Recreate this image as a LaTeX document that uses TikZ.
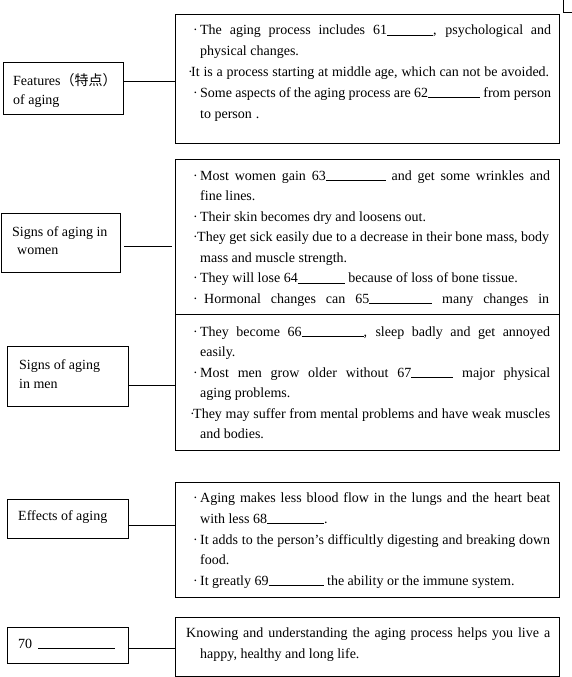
\documentclass[tikz,border=0pt]{standalone}
\usepackage{fontspec}
\setmainfont{Liberation Serif}
\newfontfamily\cjk{Noto Sans CJK SC}
\newcommand\blank[1]{\rule[-1pt]{#1}{0.7pt}}
\newcommand\jtext[2]{\makebox[#1][s]{#2}}
\newcommand\bul[1]{\makebox[#1][l]{·}}
\begin{document}
\begin{tikzpicture}[x=1pt,y=-1pt,
  box/.style={draw, line width=0.9pt, inner sep=0pt, anchor=north west},
  txt/.style={anchor=base west, inner sep=0pt, font=\fontsize{14}{17}\selectfont},
  link/.style={line width=0.9pt}]
\useasboundingbox (0,0) rectangle (572,677);
% right boxes
\node[box, minimum width=384pt, minimum height=129pt] (r1) at (175,14) {};
\node[box, minimum width=384pt, minimum height=155pt] (r2) at (175,159) {};
\node[box, minimum width=384pt, minimum height=136pt] (r3) at (175,314) {};
\node[box, minimum width=384pt, minimum height=115pt] (r4) at (175,482) {};
\node[box, minimum width=384pt, minimum height=59pt] (r5) at (175,617) {};
% left boxes
\node[box, minimum width=120pt, minimum height=52pt] (l1) at (3,62) {};
\node[box, minimum width=119pt, minimum height=59pt] (l2) at (0.5,213) {};
\node[box, minimum width=121pt, minimum height=60pt] (l3) at (7,346) {};
\node[box, minimum width=121pt, minimum height=39pt] (l4) at (7,499) {};
\node[box, minimum width=121pt, minimum height=36pt] (l5) at (7,627) {};
% connector levels
\coordinate (c1) at (0,81);
\coordinate (c2) at (0,246);
\coordinate (c3) at (0,385);
\coordinate (c4) at (0,525);
\coordinate (c5) at (0,648);
\draw[link] (l1.east |- c1) -- (r1.west |- c1);
\draw[link, shorten <=4pt, shorten >=3pt] (l2.east |- c2) -- (r2.west |- c2);
\draw[link] (l3.east |- c3) -- (r3.west |- c3);
\draw[link] (l4.east |- c4) -- (r4.west |- c4);
\draw[link] (l5.east |- c5) -- (r5.west |- c5);
% corner mark
\draw[line width=0.9pt] (563,0) -- (563,12) -- (572,12);
% left texts
\node[txt] (l1a) at (13,85) {Features{\cjk （特点）}};
\node[txt] (l1b) at (13,104) {of aging};
\node[txt] (l2a) at (12,236) {Signs of aging in};
\node[txt] (l2b) at (17,254) {women};
\node[txt] (l3a) at (19,369) {Signs of aging};
\node[txt] (l3b) at (19,388) {in men};
\node[txt] (l4a) at (18,520) {Effects of aging};
\node[txt] (l5a) at (18,648) {70\hspace{6pt}\blank{77pt}};
% box 1
\node[txt] (a1) at (193,35) {\bul{7pt}\jtext{351pt}{The aging process includes 61\blank{46pt}, psychological and}};
\node[txt] (a2) at (200,56) {physical changes.};
\node[txt] (a3) at (188,76.5) {\bul{3pt}\jtext{358pt}{It is a process starting at middle age, which can not be avoided.}};
\node[txt] (a4) at (193,97) {\bul{7pt}\jtext{351pt}{Some aspects of the aging process are 62\blank{52pt} from person}};
\node[txt] (a5) at (200,118) {to person\hspace{4pt}.};
% box 2
\node[txt] (b1) at (193,180) {\bul{7pt}\jtext{350pt}{Most women gain 63\blank{60pt} and get some wrinkles and}};
\node[txt] (b2) at (200,200.5) {fine lines.};
\node[txt] (b3) at (193,221) {\bul{7pt}Their skin becomes dry and loosens out.};
\node[txt] (b4) at (193,241.5) {\bul{4pt}\jtext{352pt}{They get sick easily due to a decrease in their bone mass, body}};
\node[txt] (b5) at (200,262) {mass and muscle strength.};
\node[txt] (b6) at (193,282.5) {\bul{7pt}They will lose 64\blank{47pt} because of loss of bone tissue.};
\node[txt] (b7) at (193,303) {\bul{11pt}\jtext{345pt}{Hormonal changes can 65\blank{63pt} many changes in}};
% box 3
\node[txt] (m1) at (193,336) {\bul{7pt}\jtext{350pt}{They become 66\blank{62pt}, sleep badly and get annoyed}};
\node[txt] (m2) at (200,356.5) {easily.};
\node[txt] (m3) at (193,377) {\bul{7pt}\jtext{350pt}{Most men grow older without 67\blank{42pt} major physical}};
\node[txt] (m4) at (200,397.5) {aging problems.};
\node[txt] (m5) at (190,418) {\bul{3pt}\jtext{357pt}{They may suffer from mental problems and have weak muscles}};
\node[txt] (m6) at (200,438.5) {and bodies.};
% box 4
\node[txt] (e1) at (193,502) {\bul{7pt}\jtext{350pt}{Aging makes less blood flow in the lungs and the heart beat}};
\node[txt] (e2) at (200,523) {with less 68\blank{57pt}.};
\node[txt] (e3) at (193,544) {\bul{7pt}\jtext{350pt}{It adds to the person’s difficultly digesting and breaking down}};
\node[txt] (e4) at (200,564) {food.};
\node[txt] (e5) at (193,585) {\bul{7pt}It greatly 69\blank{55pt} the ability or the immune system.};
% box 5
\node[txt] (k1) at (186,637) {\jtext{364pt}{Knowing and understanding the aging process helps you live a}};
\node[txt] (k2) at (200,658) {happy, healthy and long life.};
\end{tikzpicture}
\end{document}
